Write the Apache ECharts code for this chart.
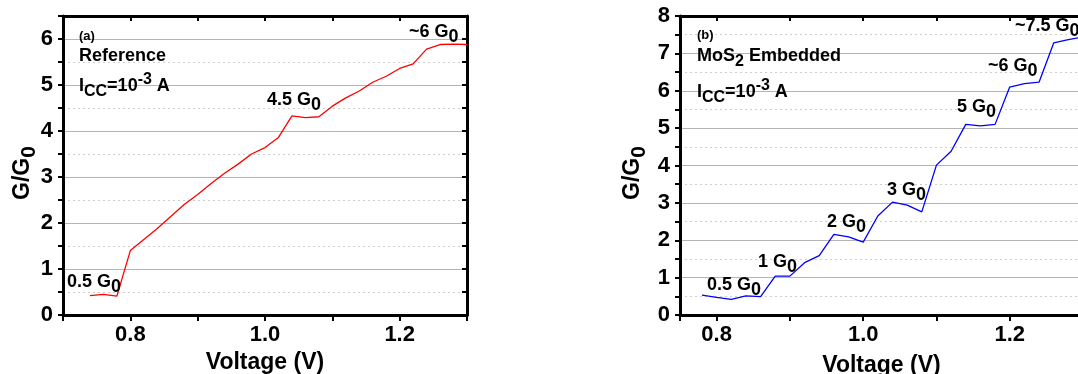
<!DOCTYPE html>
<html><head><meta charset="utf-8">
<script src="https://cdn.jsdelivr.net/npm/echarts@6/dist/echarts.min.js"></script>
<style>html,body{margin:0;padding:0;background:#fff}#c{width:1078px;height:374px}</style>
</head><body><div id="c"></div>
<script>
// ---- data ----
const refVoltage = [0.74,0.76,0.78,0.80,0.82,0.84,0.86,0.88,0.90,0.92,0.94,0.96,0.98,1.00,1.02,1.04,1.06,1.08,1.10,1.12,1.14,1.16,1.18,1.20,1.22,1.24,1.26,1.28,1.30];
const refG       = [0.42,0.45,0.41,1.40,1.64,1.88,2.14,2.40,2.62,2.86,3.08,3.28,3.50,3.64,3.86,4.33,4.29,4.31,4.54,4.72,4.87,5.06,5.19,5.36,5.46,5.78,5.88,5.89,5.88];
const mosVoltage = [0.78,0.80,0.82,0.84,0.86,0.88,0.90,0.92,0.94,0.96,0.98,1.00,1.02,1.04,1.06,1.08,1.10,1.12,1.14,1.16,1.18,1.20,1.22,1.24,1.26,1.28,1.30];
const mosG       = [0.53,0.47,0.42,0.51,0.49,1.04,1.04,1.40,1.59,2.16,2.09,1.95,2.65,3.02,2.94,2.76,4.01,4.38,5.10,5.06,5.10,6.10,6.19,6.23,7.28,7.37,7.44];
const xTickLabels = ['0.8','1.0','1.2'];
const yTickLabelsA = ['0','1','2','3','4','5','6'];
const yTickLabelsB = ['0','1','2','3','4','5','6','7','8'];
const refSteps = ['0.5','4.5','~6'];
const mosSteps = ['0.5','1','2','3','5','~6','~7.5'];

const FONT = '"Liberation Sans", Arial, Helvetica, sans-serif';
function rich(base, sub){
  const lh = base + 10;
  return {
    n:{fontSize:base,fontWeight:'bold',fontFamily:FONT,color:'#000',lineHeight:lh,verticalAlign:'middle'},
    sb:{fontSize:sub,fontWeight:'bold',fontFamily:FONT,color:'#000',lineHeight:lh,verticalAlign:'bottom'},
    sp:{fontSize:sub,fontWeight:'bold',fontFamily:FONT,color:'#000',lineHeight:lh,verticalAlign:'top'}
  };
}
function fmtX(v){
  const s = (Math.round(v*100)/100).toFixed(1);
  return (Math.abs(v*10 - Math.round(v*10))<1e-6 && xTickLabels.includes(s)) ? s : '';
}
function fmtY(list){
  return function(v){
    const s = String(Math.round(v*100)/100);
    return list.includes(s) ? s : '';
  };
}
const axisLineStyle = {show:true,onZero:false,lineStyle:{color:'#000',width:3}};

function xPair(gi, min, max, interval, nameGap, labelSize){
  const base = {type:'value',gridIndex:gi,min:min,max:max,splitNumber:5};
  if (interval) base.interval = interval;
  return [
    Object.assign({}, base, {
      position:'bottom',
      axisLine:axisLineStyle,
      axisTick:{show:true,inside:false,length:6,lineStyle:{color:'#000',width:2}},
      axisLabel:{show:true,formatter:fmtX,margin:9,color:'#000',fontSize:labelSize,fontWeight:'bold',fontFamily:FONT,showMinLabel:true,showMaxLabel:true},
      splitLine:{show:false},
      name:'Voltage (V)',nameLocation:'middle',nameGap:nameGap,
      nameTextStyle:{fontSize:23,fontWeight:'bold',fontFamily:FONT,color:'#000'}
    }),
    Object.assign({}, base, {
      position:'top',
      axisLine:axisLineStyle,
      axisTick:{show:true,inside:true,length:5,lineStyle:{color:'#000',width:2}},
      axisLabel:{show:false},
      splitLine:{show:false}
    })
  ];
}
function yTriple(gi, max, labels, labelSize){
  return [
    {type:'value',gridIndex:gi,min:0,max:max,interval:0.5,position:'left',
     axisLine:axisLineStyle,
     axisTick:{show:true,inside:false,length:5,lineStyle:{color:'#000',width:2}},
     axisLabel:{show:true,formatter:fmtY(labels),margin:10,color:'#000',fontSize:labelSize,fontWeight:'bold',fontFamily:FONT},
     splitLine:{show:true,lineStyle:{color:'#cfcfcf',width:1,type:[2,3]}}
    },
    {type:'value',gridIndex:gi,min:0,max:max,interval:0.5,position:'right',
     axisLine:axisLineStyle,
     axisTick:{show:true,inside:true,length:5,lineStyle:{color:'#000',width:2}},
     axisLabel:{show:false},
     splitLine:{show:false}
    },
    {type:'value',gridIndex:gi,min:0,max:max,interval:1,position:'right',
     axisLine:{show:false},axisTick:{show:false},axisLabel:{show:false},
     splitLine:{show:true,lineStyle:{color:'#b4b4b4',width:1}}
    }
  ];
}

function zip(xs, ys){ return xs.map((x,i)=>[x, ys[i]]); }

function txt(x, y, text, base, sub, align){
  return {type:'text',x:x,y:y,z:100,style:{text:text,rich:rich(base,sub),align:align||'left',verticalAlign:'middle'}};
}
function step(x, y, label){
  return txt(x, y, '{n|'+label+' G}{sb|0}', 18, 18);
}
function yTitle(x, y){
  const t = txt(x, y, '{n|G/G}{sb|0}', 23, 21, 'center');
  t.rotation = Math.PI/2;
  return t;
}

const chart = echarts.init(document.getElementById('c'), null, {renderer:'canvas'});
const option = {
  animation:false,
  backgroundColor:'#fff',
  grid:[
    {left:63,width:404,top:16,height:299,containLabel:false,outerBoundsMode:'none'},
    {left:680,width:403,top:16,height:299,containLabel:false,outerBoundsMode:'none'}
  ],
  xAxis:[].concat(xPair(0,0.7,1.3,0.1,34,22), xPair(1,0.75,1.3,null,39,22)),
  yAxis:[].concat(yTriple(0,6.5,yTickLabelsA,22), yTriple(1,8,yTickLabelsB,22)),
  series:[
    {type:'line',xAxisIndex:0,yAxisIndex:0,data:zip(refVoltage,refG),showSymbol:false,symbol:'none',
     lineStyle:{color:'#ff0000',width:1.3},itemStyle:{color:'#ff0000'},z:5},
    {type:'line',xAxisIndex:2,yAxisIndex:3,data:zip(mosVoltage,mosG),showSymbol:false,symbol:'none',
     lineStyle:{color:'#0000ff',width:1.3},itemStyle:{color:'#0000ff'},z:5}
  ],
  graphic:[
    yTitle(23,173),
    yTitle(633,173),
    {type:'text',x:79,y:36,z:100,style:{text:'(a)',fontSize:13,fontWeight:'bold',fontFamily:FONT,fill:'#000',align:'left',verticalAlign:'middle'}},
    txt(79,56,'{n|Reference}',18,15),
    txt(79,86,'{n|I}{sb|CC}{n|=10}{sp|-3}{n| A}',18,16),
    step(67,282,refSteps[0]),
    step(267,100,refSteps[1]),
    step(409,32,refSteps[2]),
    {type:'text',x:697,y:35,z:100,style:{text:'(b)',fontSize:13,fontWeight:'bold',fontFamily:FONT,fill:'#000',align:'left',verticalAlign:'middle'}},
    txt(697,56,'{n|MoS}{sb|2}{n| Embedded}',18,16),
    txt(697,92,'{n|I}{sb|CC}{n|=10}{sp|-3}{n| A}',18,16),
    step(707,285,mosSteps[0]),
    step(758,262,mosSteps[1]),
    step(827,222,mosSteps[2]),
    step(887,190,mosSteps[3]),
    step(957,107,mosSteps[4]),
    step(988,66,mosSteps[5]),
    step(1015,26,mosSteps[6])
  ]
};
chart.setOption(option);
</script>
</body></html>
